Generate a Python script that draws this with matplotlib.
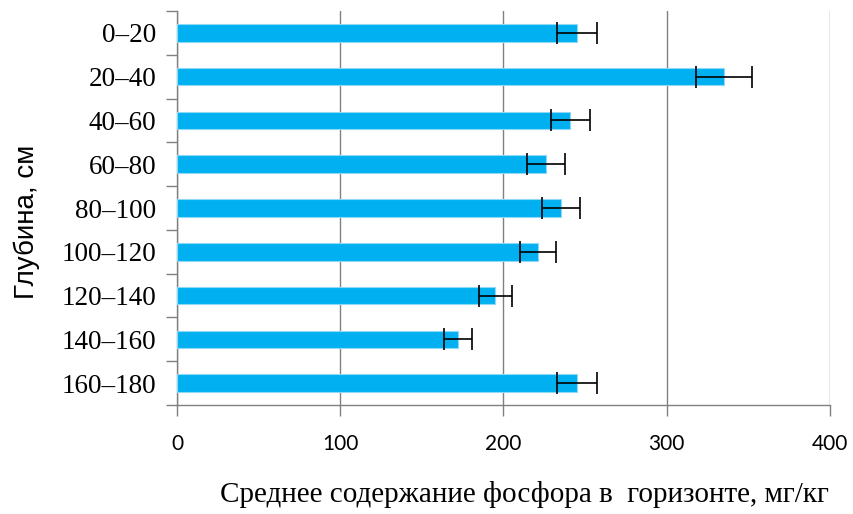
import numpy as np
import matplotlib
matplotlib.use("Agg")
import matplotlib.pyplot as plt

# data
depths = ["0–20", "20–40", "40–60", "60–80", "80–100",
          "100–120", "120–140", "140–160", "160–180"]
phosphorus = [245, 335, 241, 226, 235, 221, 195, 172, 245]
errors = [12, 17, 12, 11.5, 11.7, 11, 10, 8.7, 12.5]
x_ticks = [0, 100, 200, 300, 400]

fig = plt.figure(figsize=(8.54, 5.14), dpi=100)
ax = fig.add_axes([177 / 854, 1 - 405 / 514, (830 - 177) / 854, (405 - 11) / 514])

y = np.arange(len(depths))
ax.barh(y, phosphorus, height=0.4, color="#00B0F0", edgecolor="#8FD9F6",
        linewidth=0.8, zorder=3)
ax.errorbar(phosphorus, y, xerr=errors, fmt="none", ecolor="black",
            elinewidth=1.2, capsize=8, capthick=1.2, zorder=4)

ax.set_xlim(0, 400)
ax.set_ylim(len(depths) - 0.5, -0.5)
ax.set_xticks(x_ticks)
ax.set_xticklabels([str(v) for v in x_ticks], family="Lato", fontsize=15)
ax.grid(axis="x", color="#808080", linewidth=1.0, zorder=0)

# category labels in the middle, tick marks on the boundaries
ax.set_yticks(y)
ax.set_yticklabels(depths, family="Liberation Serif", fontsize=19.5)
ax.tick_params(axis="y", length=0, pad=15)
ax.set_yticks(np.arange(-0.5, len(depths)), minor=True)
ax.tick_params(axis="y", which="minor", length=8, color="#808080", width=1)
ax.tick_params(axis="x", length=8, color="#808080", width=1, pad=13)

for s in ["top", "right"]:
    ax.spines[s].set_visible(False)
for s in ["left", "bottom"]:
    ax.spines[s].set_color("#808080")
    ax.spines[s].set_linewidth(1)

ax.set_xlabel("Среднее содержание фосфора в  горизонте, мг/кг",
              family="Liberation Serif", fontsize=21)
ax.xaxis.set_label_coords((524 - 177) / 653, -(495 - 405) / 394, transform=ax.transAxes)
ax.xaxis.label.set_va("center")
ax.set_ylabel("Глубина, см", family="Liberation Sans", fontsize=20)
ax.yaxis.set_label_coords(-(177 - 27) / 653, (405 - 222) / 394, transform=ax.transAxes)
ax.yaxis.label.set_va("center")

fig.savefig("out.png", dpi=100)
